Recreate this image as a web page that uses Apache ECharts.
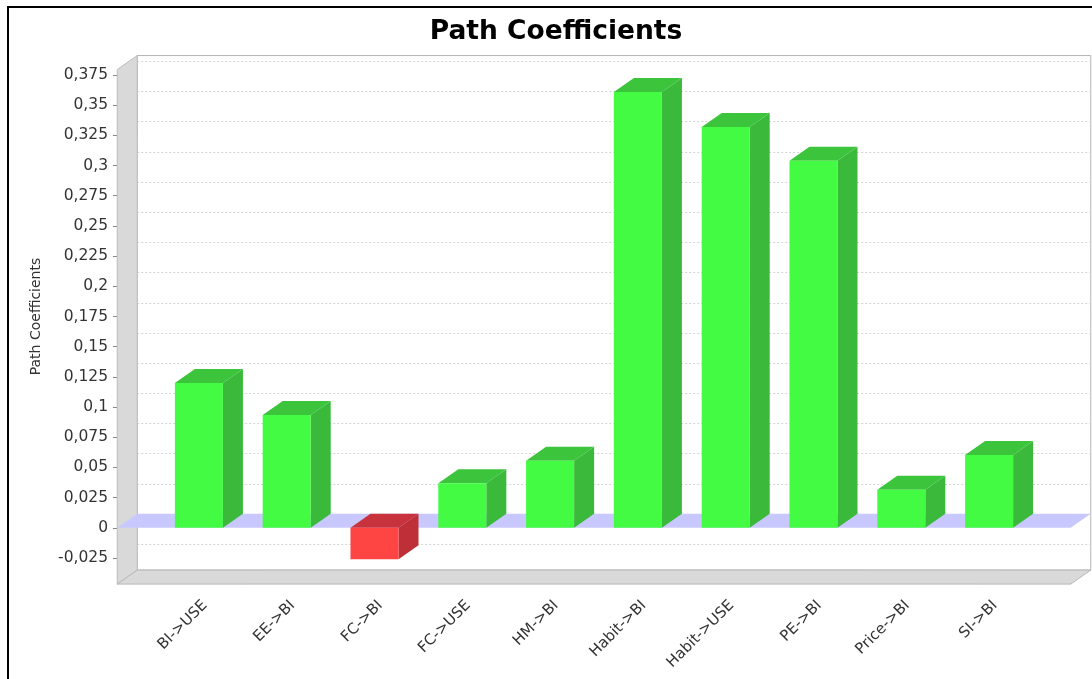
<!DOCTYPE html>
<html>
<head>
<meta charset="utf-8">
<title>Path Coefficients</title>
<script src="https://cdn.jsdelivr.net/npm/echarts@6/dist/echarts.min.js"></script>
<style>
  html, body { margin: 0; padding: 0; background: #ffffff; }
  #chart { width: 1092px; height: 679px; }
</style>
</head>
<body>
<div id="chart"></div>
<script>
// Path relationships and their estimated coefficients
const categories = ['BI->USE', 'EE->BI', 'FC->BI', 'FC->USE', 'HM->BI',
                    'Habit->BI', 'Habit->USE', 'PE->BI', 'Price->BI', 'SI->BI'];
const coefficients = [0.120, 0.0935, -0.026, 0.037, 0.0555,
                      0.361, 0.332, 0.304, 0.0315, 0.0604];

// Value axis: tick range and step
const yMin = -0.025;
const yMax = 0.375;
const yStep = 0.025;
// Extent of the 3D plot box along the value axis (slightly beyond the ticks)
const frameLow = -0.0466;
const frameHigh = 0.3795;

// 3D look
const DX = 20;          // depth offset to the right
const DY = 14;          // depth offset upwards
const BAR_FRACTION = 0.547;   // bar width as share of a category band
const SIDE_MARGIN = 0.43;     // box margin beside first/last band, in bands

const FONT = 'DejaVu Sans';

const yTicks = [];
for (let k = 0; k <= Math.round((yMax - yMin) / yStep); k++) {
  yTicks.push(+(yMin + k * yStep).toFixed(3));
}

function fmt(v) {
  return parseFloat(Number(v).toFixed(3)).toString().replace('.', ',');
}

const chart = echarts.init(document.getElementById('chart'), null, { renderer: 'canvas' });

// Walls, floor, back-wall grid lines and the zero plane
function renderFrame(params, api) {
  const bw = api.size([1, 0])[0];
  const first = api.coord([0, 0]);
  const last = api.coord([categories.length - 1, 0]);
  const left = first[0] - bw / 2 - SIDE_MARGIN * bw;
  const right = last[0] + bw / 2 + SIDE_MARGIN * bw;
  const yTop = api.coord([0, frameHigh])[1];
  const yBot = api.coord([0, frameLow])[1];
  const y0 = first[1];

  const children = [];
  // back wall
  children.push({
    type: 'rect',
    shape: { x: left + DX, y: yTop - DY, width: right - left, height: yBot - yTop },
    style: { fill: '#ffffff', stroke: '#b4b4b4', lineWidth: 1 }
  });
  // grid lines on the back wall
  yTicks.forEach(function (v) {
    const y = Math.round(api.coord([0, v])[1] - DY) + 0.5;
    children.push({
      type: 'line',
      shape: { x1: left + DX, y1: y, x2: right + DX, y2: y },
      style: { stroke: '#d4d4d4', lineWidth: 1, lineDash: [2, 2] }
    });
  });
  // left wall
  children.push({
    type: 'polygon',
    shape: { points: [[left, yTop], [left + DX, yTop - DY], [left + DX, yBot - DY], [left, yBot]] },
    style: { fill: '#d9d9d9', stroke: '#bdbdbd', lineWidth: 1 }
  });
  // floor
  children.push({
    type: 'polygon',
    shape: { points: [[left, yBot], [left + DX, yBot - DY], [right + DX, yBot - DY], [right, yBot]] },
    style: { fill: '#d9d9d9', stroke: '#b8b8b8', lineWidth: 1 }
  });
  // zero plane
  children.push({
    type: 'polygon',
    shape: { points: [[left, y0], [left + DX, y0 - DY], [right + DX, y0 - DY], [right, y0]] },
    style: { fill: '#c8c8ff', stroke: null }
  });
  return { type: 'group', children: children };
}

// One 3D bar: front face, top face and right side face
function renderBar(params, api) {
  const i = api.value(0);
  const v = api.value(1);
  const bw = api.size([1, 0])[0];
  const half = bw * BAR_FRACTION / 2;
  const pZero = api.coord([i, 0]);
  const pVal = api.coord([i, v]);
  const x0 = pZero[0] - half;
  const x1 = pZero[0] + half;
  const yT = Math.min(pZero[1], pVal[1]);
  const yB = Math.max(pZero[1], pVal[1]);
  const pos = v >= 0;
  const front = pos ? '#44fb44' : '#ff4444';
  const shade = pos ? '#3cc43c' : '#c8323c';
  const shadeSide = pos ? '#3ab93a' : '#bf2f38';
  return {
    type: 'group',
    children: [
      {
        type: 'polygon',
        shape: { points: [[x1, yT], [x1 + DX, yT - DY], [x1 + DX, yB - DY], [x1, yB]] },
        style: { fill: shadeSide, stroke: null }
      },
      {
        type: 'polygon',
        shape: { points: [[x0, yT], [x0 + DX, yT - DY], [x1 + DX, yT - DY], [x1, yT]] },
        style: { fill: shade, stroke: null }
      },
      {
        type: 'rect',
        shape: { x: x0, y: yT, width: x1 - x0, height: yB - yT },
        style: { fill: front, stroke: null }
      }
    ]
  };
}

const labelAxisStyle = {
  interval: 0,
  rotate: 45,
  margin: 45,
  fontFamily: FONT,
  fontSize: 15,
  color: '#333333'
};

const option = {
  backgroundColor: '#ffffff',
  animation: false,
  title: {
    text: 'Path Coefficients',
    left: 551,
    textAlign: 'center',
    top: 14,
    textStyle: { fontFamily: FONT, fontWeight: 'bold', fontSize: 26.5, color: '#000000' }
  },
  graphic: [
    {
      type: 'rect',
      z: -10,
      shape: { x: 8, y: 7, width: 1200, height: 800 },
      style: { fill: null, stroke: '#000000', lineWidth: 2 }
    }
  ],
  grid: [
    // plotting grid (front plane of the 3D box)
    { left: 155, right: 59, top: 75, bottom: 121 },
    // category labels sit slightly towards the depth side
    { left: 161, right: 53, top: 75, bottom: 121 }
  ],
  xAxis: [
    {
      type: 'category',
      gridIndex: 0,
      data: categories,
      axisLine: { show: false },
      axisTick: { show: false },
      splitLine: { show: false },
      axisLabel: { show: false }
    },
    {
      type: 'category',
      gridIndex: 1,
      data: categories,
      axisLine: { show: false },
      axisTick: { show: false },
      splitLine: { show: false },
      axisLabel: labelAxisStyle
    }
  ],
  yAxis: [
    {
      type: 'value',
      gridIndex: 0,
      min: yMin,
      max: yMax,
      interval: yStep,
      offset: 38,
      name: 'Path Coefficients',
      nameLocation: 'middle',
      nameGap: 74,
      nameTextStyle: { fontFamily: FONT, fontSize: 14, color: '#333333' },
      axisLine: { show: false },
      axisTick: { show: true, length: 4, lineStyle: { color: '#888888' } },
      splitLine: { show: false },
      axisLabel: {
        margin: 9,
        fontFamily: FONT,
        fontSize: 15.5,
        color: '#333333',
        formatter: fmt
      }
    },
    {
      type: 'value',
      gridIndex: 1,
      min: yMin,
      max: yMax,
      show: false
    }
  ],
  series: [
    {
      name: 'frame',
      type: 'custom',
      xAxisIndex: 0,
      yAxisIndex: 0,
      z: 1,
      silent: true,
      clip: false,
      renderItem: renderFrame,
      data: [[0, 0]]
    },
    {
      name: 'Path Coefficients',
      type: 'custom',
      xAxisIndex: 0,
      yAxisIndex: 0,
      z: 2,
      clip: false,
      renderItem: renderBar,
      encode: { x: 0, y: 1 },
      data: coefficients.map(function (v, i) { return [i, v]; })
    }
  ]
};

chart.setOption(option);
</script>
</body>
</html>
